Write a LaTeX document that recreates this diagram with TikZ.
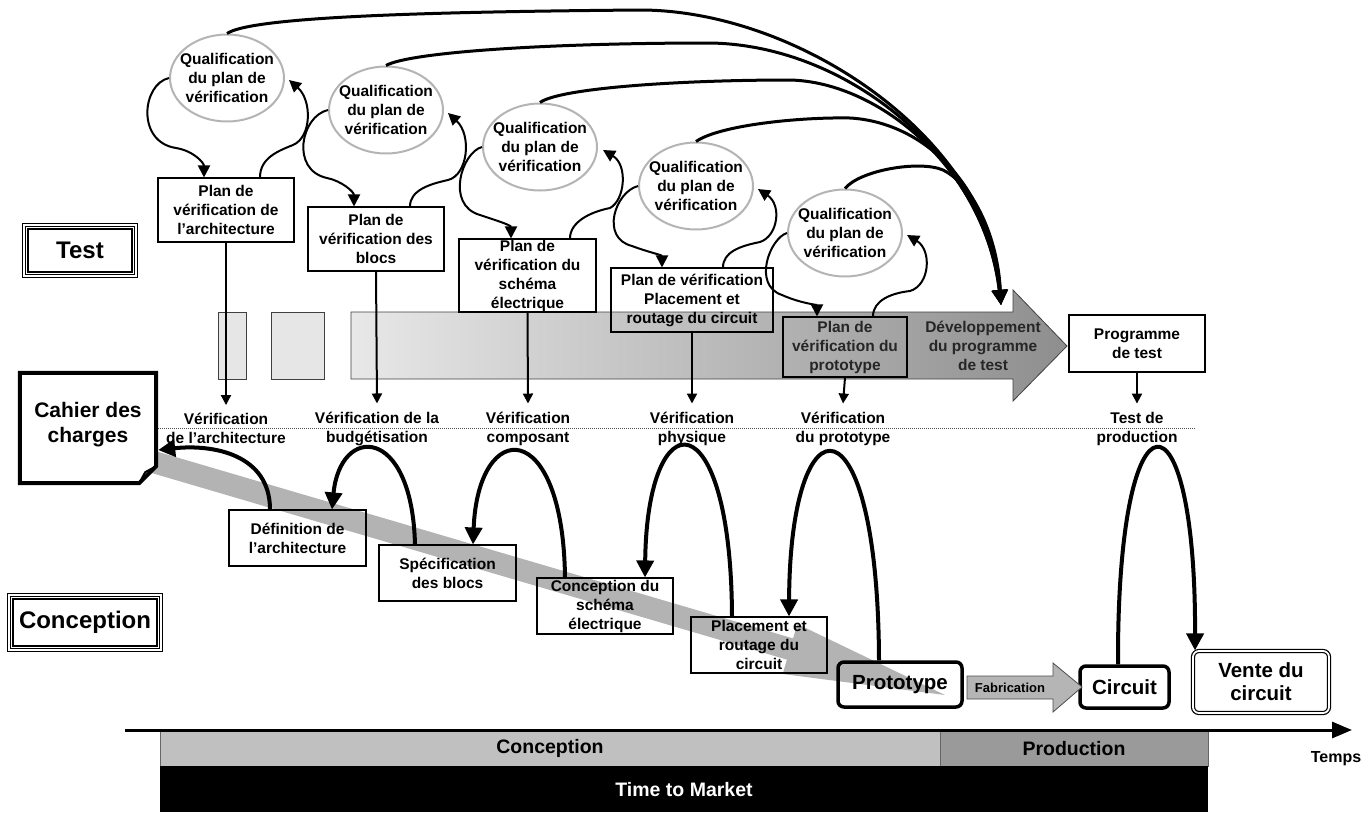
\documentclass[tikz,border=0pt]{standalone}
\usepackage{fontspec}
\setmainfont{Liberation Sans}
\usetikzlibrary{arrows.meta,shapes.geometric}
\definecolor{bandgray}{HTML}{B3B3B3}
\definecolor{ellgray}{HTML}{B4B4B4}
\definecolor{lightbox}{HTML}{E6E6E6}
\definecolor{arrL}{HTML}{E8E8E8}
\definecolor{arrR}{HTML}{8E8E8E}
\definecolor{conc}{HTML}{C0C0C0}
\definecolor{prod}{HTML}{9A9A9A}
\definecolor{fabgray}{HTML}{B5B5B5}
\begin{document}
\begin{tikzpicture}[x=1pt,y=-1pt,
  txt/.style={font=\bfseries\fontsize{15.5pt}{19pt}\selectfont, align=center, inner sep=0pt},
  qual/.style={ellipse, draw=ellgray, line width=2pt, fill=white, minimum width=114pt, minimum height=87pt, inner sep=0pt},
  planbox/.style={txt, draw, line width=1.1pt},
  dbox/.style={txt, draw, line width=1.1pt, minimum width=137pt, minimum height=56pt},
  bigbox/.style={font=\bfseries\fontsize{20.5pt}{23pt}\selectfont, align=center, inner sep=0pt, draw, line width=3.5pt, rounded corners=6pt},
  qloop/.style={line width=2pt, -{Triangle[length=12pt,width=12pt]}},
  toparc/.style={line width=3pt, -{Triangle[length=15pt,width=15pt]}},
  vdown/.style={line width=2pt, -{Triangle[length=10pt,width=10pt]}},
  bigarc/.style={line width=4pt, -{Triangle[length=17pt,width=17pt]}},
  lbl/.style={font=\bfseries\fontsize{24pt}{28pt}\selectfont, inner sep=0pt},
  barlbl/.style={font=\bfseries\fontsize{19.5pt}{22pt}\selectfont, inner sep=0pt}
]
\useasboundingbox (0,0) rectangle (1371,812);

% gray diagonal band
\fill[bandgray] (153.1,450.4) -- (793.1,638.4) -- (797.3,624) -- (945,695) -- (782.7,674) -- (786.9,659.6) -- (146.9,471.6) -- cycle;

% dotted separator
\draw[black!70, line width=0.8pt, dash pattern=on 1pt off 1pt] (156,428) -- (1195,428);

% Cahier des charges
\node[font=\bfseries\fontsize{21pt}{25pt}\selectfont, align=center, inner sep=0pt, minimum width=136pt, minimum height=110pt] (cahier) at (88,428) {};
\fill[white] (cahier.north west) -- (cahier.north east) -- ([shift={(0,-17)}]cahier.south east) -- ([shift={(-17,0)}]cahier.south east) -- (cahier.south west) -- cycle;
\draw[line width=4pt, line join=miter] (cahier.north west) -- (cahier.north east) -- ([shift={(0,-17)}]cahier.south east) -- ([shift={(-17,0)}]cahier.south east) -- (cahier.south west) -- cycle;
\draw[line width=2pt] ([shift={(0,-17)}]cahier.south east) -- ([shift={(-11,-11)}]cahier.south east) -- ([shift={(-17,0)}]cahier.south east);
\node[font=\bfseries\fontsize{21pt}{25pt}\selectfont, align=center, inner sep=0pt] (cahiert) at (88,425) {Cahier des\\charges};

% Test / Conception labels
\node[lbl, minimum width=116pt, minimum height=55pt] (test) at (80,250.5) {Test};
\foreach \d in {0.75,3.5,6.25}
  \draw[line width=1.5pt] ([shift={(\d,\d)}]test.north west) rectangle ([shift={(-\d,-\d)}]test.south east);
\node[lbl, minimum width=156pt, minimum height=59pt] (concl) at (85,622.5) {Conception};
\foreach \d in {0.75,3.5,6.25}
  \draw[line width=1.5pt] ([shift={(\d,\d)}]concl.north west) rectangle ([shift={(-\d,-\d)}]concl.south east);

% big test arrow
\path[draw=black!75, line width=0.8pt, left color=arrL, right color=arrR] (351,312) -- (1013,312) -- (1013,290) -- (1067,346) -- (1013,401) -- (1013,379) -- (351,379) -- cycle;
\draw[black!75, line width=0.8pt, fill=lightbox] (218,312) rectangle (246,379);
\draw[black!75, line width=0.8pt, fill=lightbox] (271,312) rectangle (324,379);
\node[txt, text=black!85] (dev) at (983,346) {Développement\\du programme\\de test};

% qualification ellipses
\node[qual] (q1) at (227,78) {};
\node[qual] (q2) at (386,110) {};
\node[qual] (q3) at (540,147) {};
\node[qual] (q4) at (696,186) {};
\node[qual] (q5) at (845,233) {};
\foreach \q in {q1,q2,q3,q4,q5}
  \node[txt] (\q t) at (\q) {Qualification\\du plan de\\vérification};

% plan boxes
\node[planbox, fill=white, minimum width=136pt, minimum height=64pt] (p1) at (226,210) {Plan de\\vérification de\\l’architecture};
\node[planbox, fill=white, minimum width=136pt, minimum height=64pt] (p2) at (376,239) {Plan de\\vérification des\\blocs};
\node[planbox, fill=white, minimum width=137pt, minimum height=73pt] (p3) at (527.5,275.5) {Plan de\\vérification du\\schéma\\électrique};
\node[planbox, minimum width=162pt, minimum height=64pt] (p4) at (692,300) {Plan de vérification\\Placement et\\routage du circuit};
\node[planbox, text=black!85, minimum width=124pt, minimum height=60pt] (p5) at (845,347) {Plan de\\vérification du\\prototype};
\node[planbox, fill=white, minimum width=136pt, minimum height=57pt] (prog) at (1137,343.5) {Programme\\de test};

% verification labels
\node[txt] (v1) at (226,428.5) {Vérification\\de l’architecture};
\node[txt] (v2) at (377,428.5) {Vérification de la\\budgétisation};
\node[txt] (v3) at (528,428.5) {Vérification\\composant};
\node[txt] (v4) at (692,428.5) {Vérification\\physique};
\node[txt] (v5) at (843,428.5) {Vérification\\du prototype};
\node[txt] (v6) at (1137,428.5) {Test de\\production};

% design boxes
\node[dbox] (d1) at (297.5,538) {Définition de\\l’architecture};
\node[dbox] (d2) at (447.5,573) {Spécification\\des blocs};
\node[dbox, minimum width=136pt] (d3) at (605,606) {Conception du\\schéma\\électrique};
\node[dbox, minimum width=136pt] (d4) at (759,645) {Placement et\\routage du\\circuit};
\node[bigbox, minimum width=124pt, minimum height=45pt] (proto) at (900,684.5) {Prototype};
\node[bigbox, minimum width=89pt, minimum height=42pt] (circuit) at (1124.5,687) {Circuit};
\node[font=\bfseries\fontsize{20.5pt}{23pt}\selectfont, align=center, inner sep=0pt, draw, line width=1.2pt, double=white, double distance=1.8pt, rounded corners=6pt, minimum width=136pt, minimum height=62pt] (vente) at (1261,682) {Vente du\\circuit};

% fabrication arrow
\draw[draw=black!70, line width=0.8pt, fill=fabgray] (967,676) -- (1053,676) -- (1053,663) -- (1082,687) -- (1053,712) -- (1053,699) -- (967,699) -- cycle;
\node[font=\bfseries\fontsize{13pt}{15pt}\selectfont, inner sep=0pt] (fab) at (1010,688) {Fabrication};

% bottom bars and timeline
\draw[draw=black!60, line width=0.6pt, fill=conc] (160,731) rectangle (940,766);
\draw[draw=black!60, line width=0.6pt, fill=prod] (940,731) rectangle (1208,766);
\fill[black] (160,766) rectangle (1208,812);
\coordinate (t0) at (125,730);
\coordinate (t1) at (1352,730);
\draw[line width=3pt, -{Triangle[length=20pt,width=16pt]}] (t0) -- (t1);
\node[barlbl] (bconc) at (550,748.5) {Conception};
\node[barlbl] (bprod) at (1074,748.5) {Production};
\node[barlbl, text=white] (ttm) at (684,790) {Time to Market};
\node[font=\bfseries\fontsize{16pt}{18pt}\selectfont, inner sep=0pt] (temps) at (1336,759) {Temps};

% vertical arrows plan -> verification
\draw[vdown] (p1.south) -- ([shift={(0,-8)}]v1.north);
\draw[vdown] (p2.south) -- ([shift={(0,-8)}]v2.north);
\draw[vdown] (p3.south) -- ([shift={(0,-8)}]v3.north);
\draw[vdown] (p4.south) -- ([shift={(0,-8)}]v4.north);
\draw[vdown] (p5.south) -- ([shift={(0,-8)}]v5.north);
\draw[vdown] (prog.south) -- ([shift={(0,-8)}]v6.north);

% qualification loops
\draw[qloop] (q1.west) .. controls (142,84) and (136,142) .. (176,148) .. controls (194,151) and (204,163) .. ([shift={(-22,0)}]p1.north);
\draw[qloop] ([shift={(34,0)}]p1.north) .. controls (260,158) and (278,151) .. (293,145) .. controls (312,137) and (312,100) .. ([shift={(4,2)}]q1.east);
\draw[qloop] (q2.west) .. controls (301,116) and (290,170) .. (327,178) .. controls (342,181) and (354,192) .. ([shift={(-22,0)}]p2.north);
\draw[qloop] ([shift={(34,0)}]p2.north) .. controls (410,190) and (430,184) .. (448,180) .. controls (468,175) and (472,135) .. ([shift={(4,3)}]q2.east);
\draw[qloop] (q3.west) .. controls (462,152) and (445,205) .. (480,215) .. controls (495,220) and (511,225) .. ([shift={(-16.5,0)}]p3.north);
\draw[qloop] ([shift={(42.5,0)}]p3.north) .. controls (570,222) and (590,212) .. (610,208) .. controls (625,200) and (628,165) .. ([shift={(5,3)}]q3.east);
\draw[qloop] (q4.west) .. controls (615,192) and (600,238) .. (632,246) .. controls (648,252) and (662,255) .. ([shift={(-30,0)}]p4.north);
\draw[qloop] ([shift={(31,0)}]p4.north) .. controls (723,252) and (740,246) .. (760,242) .. controls (778,236) and (782,205) .. ([shift={(4,3)}]q4.east);
\draw[qloop] (q5.west) .. controls (770,238) and (752,285) .. (782,295) .. controls (800,303) and (817,305) .. ([shift={(-28,0)}]p5.north);
\draw[qloop] ([shift={(28,0)}]p5.north) .. controls (873,300) and (892,293) .. (910,291) .. controls (930,285) and (932,250) .. ([shift={(4,2)}]q5.east);

% long arcs to the test programme development
\coordinate (devtip) at (1001,305);
\draw[toparc] (q1.north) .. controls (250,18) and (400,12) .. (640,10) .. controls (800,10) and (990,140) .. (devtip);
\draw[toparc] (q2.north) .. controls (410,52) and (550,43) .. (710,43) .. controls (850,45) and (985,160) .. (devtip);
\draw[toparc] (q3.north) .. controls (560,88) and (680,80) .. (790,80) .. controls (880,82) and (985,170) .. (devtip);
\draw[toparc] (q4.north) .. controls (720,125) and (800,117) .. (850,118) .. controls (920,122) and (990,180) .. (devtip);
\draw[toparc] (q5.north) .. controls (860,170) and (920,160) .. (943,170) .. controls (975,186) and (998,240) .. (devtip);

% lower feedback arcs
\draw[bigarc] ([shift={(-27.5,0)}]d1.north) .. controls +(0,-55) and +(55,-6) .. ([shift={(2,22)}]cahier.east);
\draw[bigarc] ([shift={(-32.5,0)}]d2.north) .. controls +(-3,-120) and +(8,-85) .. ([shift={(34.5,0)}]d1.north);
\draw[bigarc] ([shift={(-40,0)}]d3.north) .. controls +(-2,-162) and +(5,-127) .. ([shift={(25.5,0)}]d2.north);
\draw[bigarc] ([shift={(-27,0)}]d4.north) .. controls +(-1,-219) and +(2,-180) .. ([shift={(40,0)}]d3.north);
\draw[bigarc] ([shift={(-21,0)}]proto.north) .. controls +(-1,-269) and +(1,-224) .. ([shift={(30,0)}]d4.north);
\draw[bigarc] ([shift={(-6.5,0)}]circuit.north) .. controls +(-1,-287) and +(1,-269) .. ([shift={(-66,0)}]vente.north);
\end{tikzpicture}
\end{document}
